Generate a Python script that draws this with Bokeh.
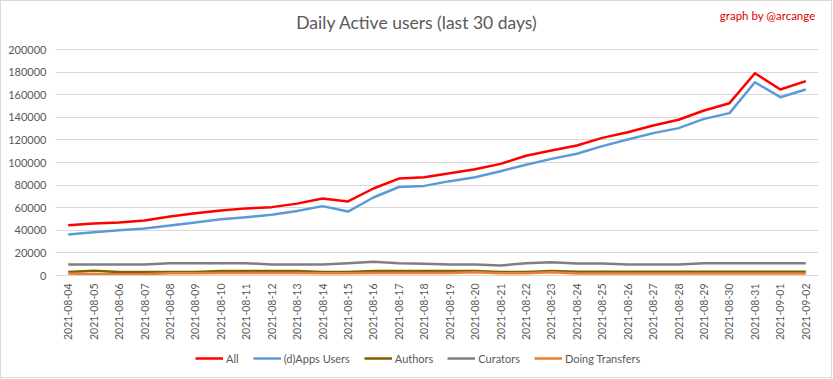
import math
from bokeh.plotting import figure
from bokeh.layouts import column
from bokeh.models import (FactorRange, Range1d, FixedTicker, BasicTickFormatter,
                          Label, Legend, LegendItem)
from bokeh.embed import file_html
from bokeh.resources import INLINE

dates = ["2021-08-04", "2021-08-05", "2021-08-06", "2021-08-07", "2021-08-08",
         "2021-08-09", "2021-08-10", "2021-08-11", "2021-08-12", "2021-08-13",
         "2021-08-14", "2021-08-15", "2021-08-16", "2021-08-17", "2021-08-18",
         "2021-08-19", "2021-08-20", "2021-08-21", "2021-08-22", "2021-08-23",
         "2021-08-24", "2021-08-25", "2021-08-26", "2021-08-27", "2021-08-28",
         "2021-08-29", "2021-08-30", "2021-08-31", "2021-09-01", "2021-09-02"]

all_users = [44500, 46000, 47000, 48700, 52300, 55000, 57500, 59400, 60500, 63600,
             68200, 65500, 77000, 85800, 87000, 90500, 94000, 98800, 106000, 110600,
             115000, 121800, 126800, 132700, 137800, 146000, 152500, 179000, 164600, 172000]
apps_users = [36300, 38300, 40000, 41600, 44300, 47000, 49800, 51500, 53700, 57000,
              61400, 56600, 69000, 78300, 79300, 83500, 87000, 92300, 98000, 103200,
              107700, 114500, 120400, 126000, 130400, 138600, 143700, 171000, 157800, 164600]
authors = [3000, 4300, 3000, 3000, 3000, 3000, 3900, 3900, 3900, 3900,
           3000, 3000, 3900, 3900, 3900, 3900, 3900, 3000, 3000, 3900,
           3400, 3400, 3400, 3400, 3400, 3400, 3400, 3400, 3400, 3400]
curators = [9700, 9700, 9700, 9700, 10900, 10900, 10900, 10900, 9700, 9700,
            9700, 10900, 12100, 10900, 10300, 9700, 9700, 8800, 10900, 11800,
            10600, 10600, 9700, 9700, 9700, 10900, 10900, 10900, 10900, 10900]
transfers = [1800, 1000, 1000, 1000, 2000, 2000, 2300, 2300, 2300, 2300,
             2000, 2000, 2300, 2300, 2300, 2300, 2800, 2000, 2000, 2800,
             1800, 1800, 1800, 1800, 1800, 1800, 1800, 1800, 1800, 1800]

y_ticks = list(range(0, 200001, 20000))
y_max = 200000

series_names = ["All", "(d)Apps Users", "Authors", "Curators", "Doing Transfers"]
series_values = [all_users, apps_users, authors, curators, transfers]
series_colors = ["#FF0000", "#5B9BD5", "#7F6000", "#7F7F7F", "#ED7D31"]

FONT = "Lato"
TXT = "#595959"

W = 830
H1 = 349
FRAME_H = 274
TOP_PX = 48  # where the top tick sits, from the frame top

p = figure(width=W, height=H1, output_backend="svg", toolbar_location=None,
           x_range=FactorRange(*dates, range_padding=0),
           y_range=Range1d(0, y_max * FRAME_H / (FRAME_H - TOP_PX)),
           min_border_left=54, min_border_right=13, min_border_top=0,
           min_border_bottom=H1 - FRAME_H)
p.outline_line_color = None
p.background_fill_color = "white"
p.border_fill_color = "white"

p.xgrid.grid_line_color = None
p.ygrid.grid_line_color = "#D9D9D9"
p.ygrid.grid_line_width = 1
p.ygrid.ticker = FixedTicker(ticks=y_ticks)

p.yaxis.ticker = FixedTicker(ticks=y_ticks)
p.yaxis.formatter = BasicTickFormatter(use_scientific=False)
p.yaxis.axis_line_color = None
p.yaxis.major_tick_line_color = None
p.yaxis.minor_tick_line_color = None
p.yaxis.major_tick_out = 0
p.yaxis.minor_tick_out = 0
p.yaxis.major_label_text_font = FONT
p.yaxis.major_label_text_font_size = "11px"
p.yaxis.major_label_text_color = TXT
p.yaxis.major_label_standoff = 9

p.xaxis.axis_line_color = "#D9D9D9"
p.xaxis.major_tick_line_color = None
p.xaxis.minor_tick_line_color = None
p.xaxis.major_tick_out = 0
p.xaxis.minor_tick_out = 0
p.xaxis.major_label_orientation = math.pi / 2
p.xaxis.major_label_text_font = FONT
p.xaxis.major_label_text_font_size = "10.5px"
p.xaxis.major_label_text_color = TXT
p.xaxis.major_label_standoff = 8

for name, vals, col in zip(series_names, series_values, series_colors):
    p.line(dates, vals, line_color=col, line_width=2.5, line_join="round")

p.add_layout(Label(x=15, y=y_max, x_offset=-20, y_offset=27,
                   text="Daily Active users (last 30 days)",
                   text_align="center", text_baseline="middle",
                   text_font=FONT, text_font_size="17.5px", text_color=TXT))
p.add_layout(Label(x=30, y=y_max, x_offset=-3, y_offset=34,
                   text="graph by @arcange",
                   text_align="right", text_baseline="middle",
                   text_font=FONT, text_font_size="11.5px", text_color="#DD0000"))

# Legend strip (its lines are the same series, kept out of view)
H2 = 27
pl = figure(width=W, height=H2, output_backend="svg", toolbar_location=None,
            x_range=FactorRange(*dates, range_padding=0), y_range=Range1d(-2, -1),
            x_axis_location=None, y_axis_location=None, min_border=0)
pl.outline_line_color = None
pl.grid.visible = False
pl.background_fill_color = "white"
pl.border_fill_color = "white"

items = []
for name, vals, col in zip(series_names, series_values, series_colors):
    r = pl.line(dates, vals, line_color=col, line_width=2.5)
    items.append(LegendItem(label=name, renderers=[r]))

legend = Legend(items=items, orientation="horizontal", location=(140, 11),
                glyph_width=28, glyph_height=16, label_standoff=3, spacing=14,
                label_width=1, padding=0, margin=0, border_line_color=None,
                background_fill_alpha=0,
                label_text_font=FONT, label_text_font_size="11px",
                label_text_color=TXT)
pl.add_layout(legend, "center")

layout = column(p, pl, spacing=0, styles={"border": "1px solid #D9D9D9"})
open("out.html", "w").write(file_html(layout, INLINE))
